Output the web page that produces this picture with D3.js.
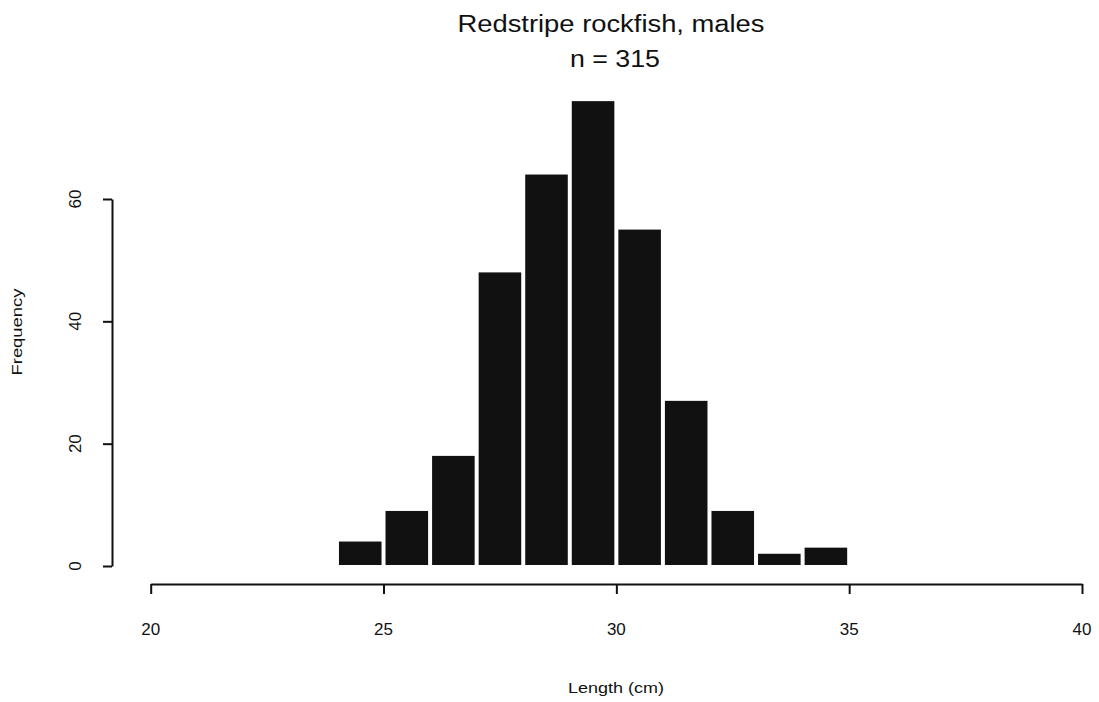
<!DOCTYPE html>
<html>
<head>
<meta charset="utf-8">
<script src="https://cdn.jsdelivr.net/npm/d3@7/dist/d3.min.js"></script>
<style>
  html, body { margin: 0; padding: 0; background: #fff; }
  svg { display: block; }
  text { font-family: "Liberation Sans", Arial, Helvetica, sans-serif; fill: #111; }
</style>
</head>
<body>
<svg id="chart" width="1099" height="702"></svg>
<script>
// Length-frequency data: 1 cm bins, lower edges in cm
const binStarts = [24, 25, 26, 27, 28, 29, 30, 31, 32, 33, 34];
const counts    = [4, 9, 18, 48, 64, 76, 55, 27, 9, 2, 3];
const xTicks = [20, 25, 30, 35, 40];
const yTicks = [0, 20, 40, 60];
const titleLine1 = "Redstripe rockfish, males";
const titleLine2 = "n = " + d3.sum(counts);
const xLabel = "Length (cm)";
const yLabel = "Frequency";

const svg = d3.select("#chart");

const x = d3.scaleLinear().domain([20, 40]).range([150.7, 1082]);
const y = d3.scaleLinear().domain([0, 60]).range([566, 199]);

const ink = "#111";

// Bars
svg.append("g")
  .selectAll("rect")
  .data(binStarts.map((b, i) => ({ lo: b, hi: b + 1, n: counts[i] })))
  .join("rect")
  .attr("x", d => x(d.lo) + 2)
  .attr("width", d => x(d.hi) - x(d.lo) - 4)
  .attr("y", d => y(d.n))
  .attr("height", d => y(0) - y(d.n) - 1)
  .attr("fill", ink);

// X axis
const gx = svg.append("g")
  .attr("transform", "translate(0,584)")
  .call(d3.axisBottom(x).tickValues(xTicks).tickSize(10).tickSizeOuter(0).tickFormat(""));
gx.selectAll("path, line").attr("stroke", ink).attr("stroke-width", 2);
svg.append("g").selectAll("text")
  .data(xTicks)
  .join("text")
  .attr("x", d => x(d))
  .attr("y", 635)
  .attr("text-anchor", "middle")
  .attr("font-size", 17)
  .text(d => d);

// Y axis
const gy = svg.append("g")
  .attr("transform", "translate(112,0)")
  .call(d3.axisLeft(y).tickValues(yTicks).tickSize(9).tickSizeOuter(0).tickFormat(""));
gy.selectAll("path, line").attr("stroke", ink).attr("stroke-width", 2);
svg.append("g").selectAll("text")
  .data(yTicks)
  .join("text")
  .attr("transform", d => `translate(81,${y(d)}) rotate(-90)`)
  .attr("text-anchor", "middle")
  .attr("font-size", 17)
  .text(d => d);

// Titles
svg.append("text")
  .attr("x", 611).attr("y", 32)
  .attr("text-anchor", "middle")
  .attr("font-size", 23)
  .attr("textLength", 307)
  .attr("lengthAdjust", "spacingAndGlyphs")
  .text(titleLine1);
svg.append("text")
  .attr("x", 615).attr("y", 67)
  .attr("text-anchor", "middle")
  .attr("font-size", 23)
  .attr("textLength", 90)
  .attr("lengthAdjust", "spacingAndGlyphs")
  .text(titleLine2);

// Axis titles
svg.append("text")
  .attr("x", 616).attr("y", 693)
  .attr("text-anchor", "middle")
  .attr("font-size", 15)
  .attr("textLength", 96)
  .attr("lengthAdjust", "spacingAndGlyphs")
  .text(xLabel);
svg.append("text")
  .attr("transform", "translate(22,332) rotate(-90)")
  .attr("text-anchor", "middle")
  .attr("font-size", 14)
  .attr("textLength", 87)
  .attr("lengthAdjust", "spacingAndGlyphs")
  .text(yLabel);
</script>
</body>
</html>
